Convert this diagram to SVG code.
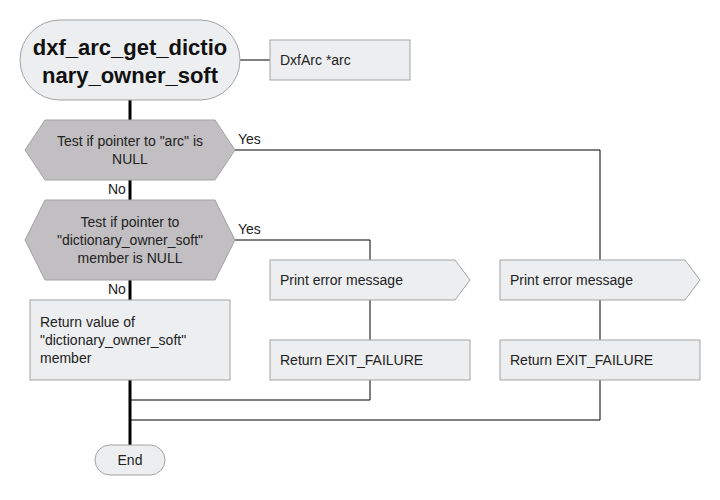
<svg xmlns="http://www.w3.org/2000/svg" width="720" height="500" viewBox="0 0 720 500">
<style>
.box{fill:#edeef0;stroke:#a3a3a3;stroke-width:1}
.dec{fill:#c1bfc1;stroke:#a3a3a3;stroke-width:1}
.t{font-family:"Liberation Sans",Arial,sans-serif;font-size:14px;fill:#222}
.c{text-anchor:middle}
.title{font-family:"Liberation Sans",Arial,sans-serif;font-size:22px;font-weight:bold;fill:#111;text-anchor:middle}
.thin{fill:none;stroke:#000;stroke-width:1}
.thick{fill:none;stroke:#000;stroke-width:3}
</style>
<rect width="720" height="500" fill="#fff"/>
<g id="connectors">
<line class="thin" x1="240" y1="60" x2="270" y2="60"/>
<line class="thick" x1="130" y1="100" x2="130" y2="120"/>
<polyline class="thin" points="235,150 600,150 600,260"/>
<line class="thick" x1="130" y1="180" x2="130" y2="200"/>
<polyline class="thin" points="235,240 370,240 370,260"/>
<line class="thick" x1="130" y1="280" x2="130" y2="300"/>
<line class="thin" x1="370" y1="300" x2="370" y2="340"/>
<line class="thin" x1="600" y1="300" x2="600" y2="340"/>
<polyline class="thin" points="370,380 370,400 130,400"/>
<polyline class="thin" points="600,380 600,420 130,420"/>
<line class="thick" x1="130" y1="380" x2="130" y2="445"/>
<text class="t" x="238" y="144">Yes</text>
<text class="t" x="108" y="194">No</text>
<text class="t" x="238" y="234">Yes</text>
<text class="t" x="108" y="294">No</text>
</g>
<g id="start">
<rect class="box" x="20" y="20" width="220" height="80" rx="40" ry="40"/>
<text class="title" x="130" y="55">dxf_arc_get_dictio</text>
<text class="title" x="130" y="83">nary_owner_soft</text>
</g>
<g id="param">
<rect class="box" x="270" y="40" width="140" height="40"/>
<text class="t" x="280" y="65">DxfArc *arc</text>
</g>
<g id="dec1">
<polygon class="dec" points="25,150 45,120 215,120 235,150 215,180 45,180"/>
<text class="t c" x="130" y="146">Test if pointer to "arc" is</text>
<text class="t c" x="130" y="164">NULL</text>
</g>
<g id="dec2">
<polygon class="dec" points="25,240 45,200 215,200 235,240 215,280 45,280"/>
<text class="t c" x="130" y="227">Test if pointer to</text>
<text class="t c" x="130" y="245">"dictionary_owner_soft"</text>
<text class="t c" x="130" y="263">member is NULL</text>
</g>
<g id="ret">
<rect class="box" x="30" y="300" width="200" height="80"/>
<text class="t" x="40" y="327">Return value of</text>
<text class="t" x="40" y="345">"dictionary_owner_soft"</text>
<text class="t" x="40" y="363">member</text>
</g>
<g id="print1">
<polygon class="box" points="270,260 455,260 470,280 455,300 270,300"/>
<text class="t" x="280" y="285">Print error message</text>
</g>
<g id="fail1">
<rect class="box" x="270" y="340" width="200" height="40"/>
<text class="t" x="280" y="365">Return EXIT_FAILURE</text>
</g>
<g id="print2">
<polygon class="box" points="500,260 685,260 700,280 685,300 500,300"/>
<text class="t" x="510" y="285">Print error message</text>
</g>
<g id="fail2">
<rect class="box" x="500" y="340" width="200" height="40"/>
<text class="t" x="510" y="365">Return EXIT_FAILURE</text>
</g>
<g id="end">
<rect class="box" x="95" y="445" width="70" height="30" rx="15" ry="15"/>
<text class="t c" x="130" y="465">End</text>
</g>
</svg>
